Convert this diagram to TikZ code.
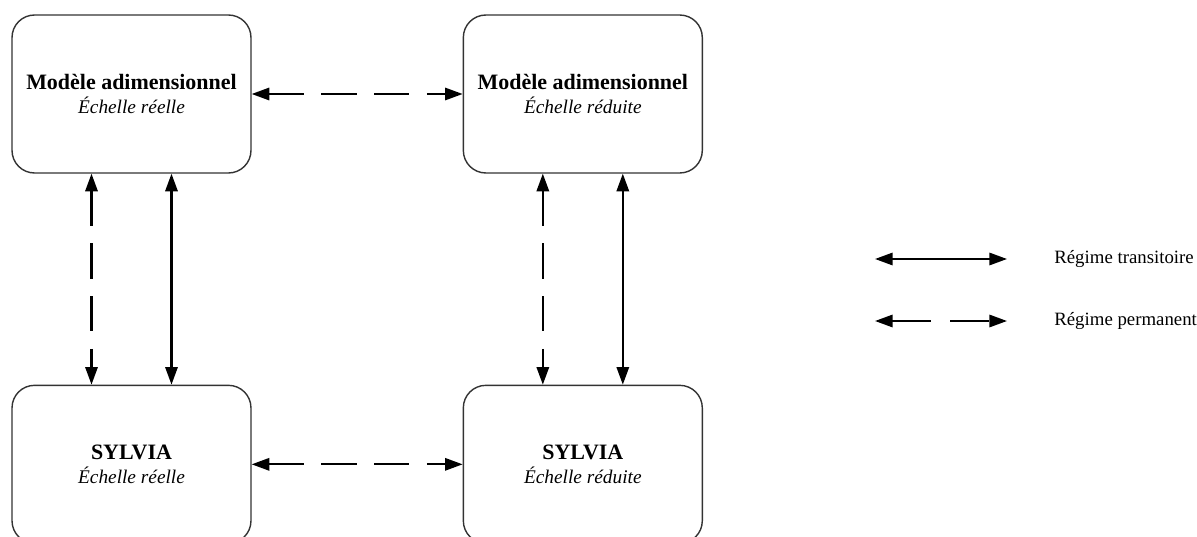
\documentclass[tikz,border=0pt]{standalone}
\usepackage{fontspec}
\setmainfont{Liberation Serif}
\usetikzlibrary{arrows.meta}
\usetikzlibrary{positioning}

\tikzset{
  bloc/.style={draw=black!80, line width=0.8pt, rounded corners=0.45cm,
    minimum width=4.78cm, minimum height=3.16cm, align=center,
    font=\fontsize{12.5}{15}\selectfont},
  trans/.style={{Triangle[length=10pt,width=7pt]}-{Triangle[length=10pt,width=7pt]}, line width=1.2pt},
  perm/.style={trans, dash pattern=on 20pt off 10pt},
  legende/.style={anchor=west, inner sep=0pt, font=\fontsize{10.7}{13}\selectfont},
}

\begin{document}
\begin{tikzpicture}[x=0.02cm,y=-0.02cm]
        \useasboundingbox (0,0) rectangle (1197,537);
        \clip (0,0) rectangle (1197,537);
        % blocs
        \node[bloc] (mr) at (131.5,94) {\textbf{Modèle adimensionnel}\\[-1pt]{\fontsize{11}{13}\selectfont\textit{Échelle réelle}}};
        \node[bloc, right=4.22cm of mr] (mx) {\textbf{Modèle adimensionnel}\\[-1pt]{\fontsize{11}{13}\selectfont\textit{Échelle réduite}}};
        \node[bloc, below=4.22cm of mr] (sr) {\textbf{SYLVIA}\\[-1pt]{\fontsize{11}{13}\selectfont\textit{Échelle réelle}}};
        \node[bloc, below=4.22cm of mx] (sx) {\textbf{SYLVIA}\\[-1pt]{\fontsize{11}{13}\selectfont\textit{Échelle réduite}}};
        % liaisons
        \draw[perm] (mr.east) -- (mx.west);
        \draw[perm] (sr.east) -- (sx.west);
        \draw[perm] ([xshift=-0.8cm]mr.south) -- ([xshift=-0.8cm]sr.north);
        \draw[trans] ([xshift=0.8cm]mr.south) -- ([xshift=0.8cm]sr.north);
        \draw[perm] ([xshift=-0.8cm]mx.south) -- ([xshift=-0.8cm]sx.north);
        \draw[trans] ([xshift=0.8cm]mx.south) -- ([xshift=0.8cm]sx.north);
        % legende
        \coordinate (t1) at (875,259);
        \coordinate (t2) at (1007,259);
        \coordinate (p1) at (875,321);
        \coordinate (p2) at (1007,321);
        \draw[trans] (t1) -- (t2);
        \draw[trans, dash pattern=on 22pt off 11pt] (p1) -- (p2);
        \node[legende] (lt) at (1054,259) {Régime transitoire};
        \node[legende] (lp) at (1054,321) {Régime permanent};
\end{tikzpicture}
\end{document}
